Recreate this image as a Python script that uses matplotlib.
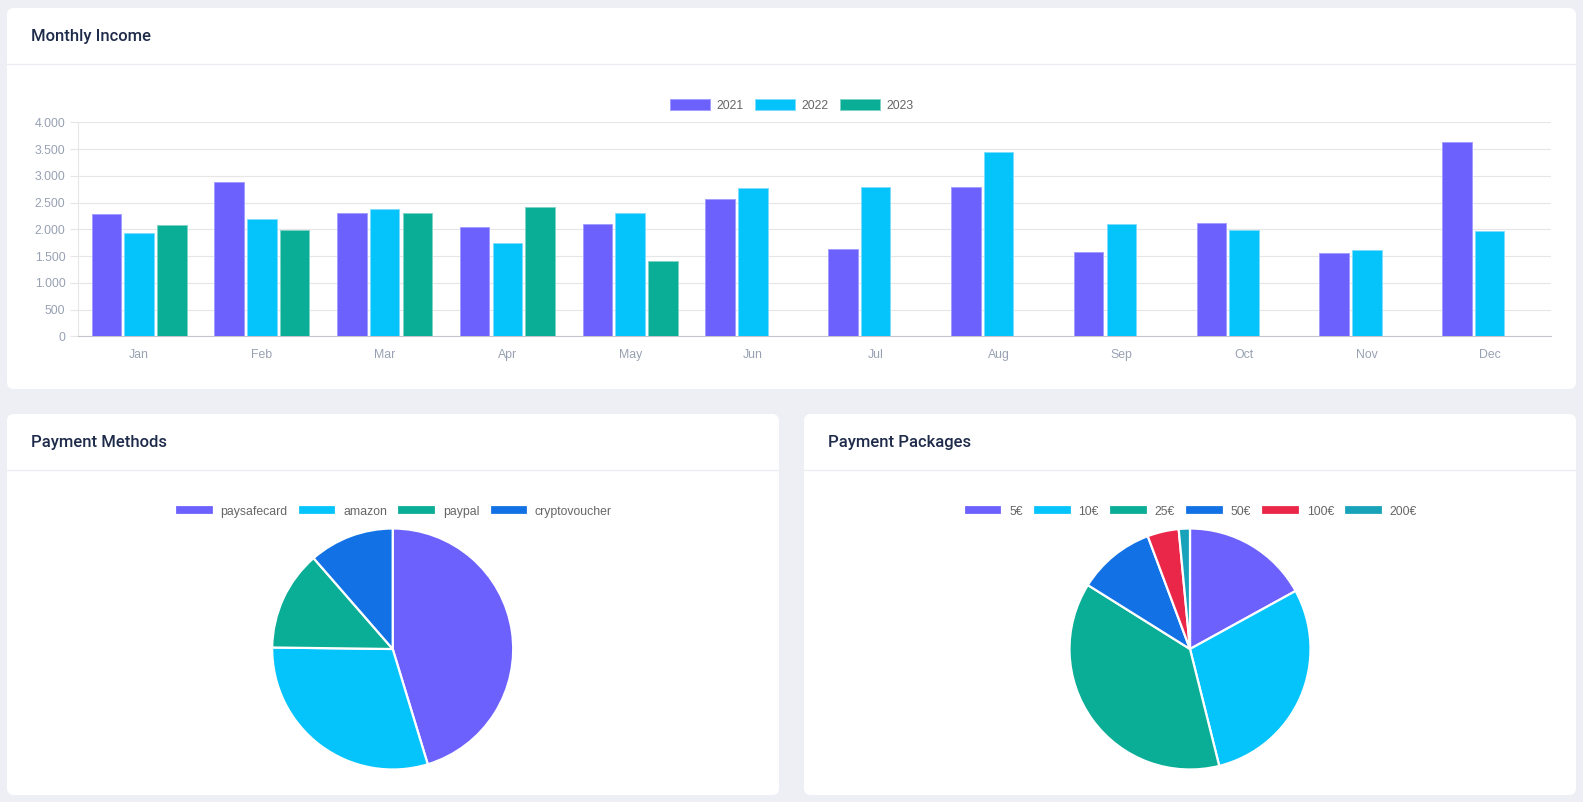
import numpy as np
import matplotlib
matplotlib.use('Agg')
import matplotlib.pyplot as plt
from matplotlib.patches import FancyBboxPatch

plt.rcParams['font.family'] = ['Liberation Sans', 'DejaVu Sans']

W, H = 1583, 802

# data
months = ['Jan', 'Feb', 'Mar', 'Apr', 'May', 'Jun', 'Jul', 'Aug', 'Sep', 'Oct', 'Nov', 'Dec']
years = ['2021', '2022', '2023']
income_2021 = [2290, 2885, 2300, 2035, 2090, 2575, 1640, 2785, 1570, 2125, 1550, 3625]
income_2022 = [1925, 2190, 2380, 1745, 2300, 2780, 2785, 3445, 2100, 1980, 1605, 1970]
income_2023 = [2075, 1980, 2300, 2415, 1410, None, None, None, None, None, None, None]
y_ticks = [0, 500, 1000, 1500, 2000, 2500, 3000, 3500, 4000]

methods = ['paysafecard', 'amazon', 'paypal', 'cryptovoucher']
method_share = [45.3, 29.9, 13.4, 11.4]

packages = ['5€', '10€', '25€', '50€', '100€', '200€']
package_share = [17.0, 29.1, 37.8, 10.4, 4.2, 1.5]

purple = '#6c61fd'
cyan = '#05c4fc'
teal = '#0aad95'
blue = '#1271e4'
red = '#ea2749'
teal2 = '#18a3bb'
bar_colors = [purple, cyan, teal]
bar_edges = ['#a39dfe', '#7fdcfd', '#7fd3c6']

grid_c = '#e6e6e6'
tick_c = '#98a1b2'
legend_c = '#666666'
title_c = '#1f2b4a'


def fig_rect(x0, y0, x1, y1):
    return [x0 / W, 1 - y1 / H, (x1 - x0) / W, (y1 - y0) / H]


fig = plt.figure(figsize=(W / 100, H / 100), dpi=100, facecolor='#eeeff4')

# background cards
bg = fig.add_axes([0, 0, 1, 1], zorder=0)
bg.set_xlim(0, W)
bg.set_ylim(H, 0)
bg.axis('off')

cards = [(7, 8, 1576, 389, 64, 'Monthly Income'),
         (7, 414, 779, 795, 470, 'Payment Methods'),
         (804, 414, 1576, 795, 470, 'Payment Packages')]
for x0, y0, x1, y1, sep, title in cards:
    bg.add_patch(FancyBboxPatch((x0, y0), x1 - x0, y1 - y0,
                                boxstyle='round,pad=0,rounding_size=7',
                                facecolor='white', edgecolor='none'))
    bg.plot([x0, x1], [sep, sep], color='#e9edf2', lw=0.9)
    bg.text(x0 + 24.5, (y0 + sep) / 2 + 1, title, fontsize=12, color=title_c,
            family=['Roboto', 'DejaVu Sans'], fontweight='medium',
            ha='left', va='center')

# bar chart
ax = fig.add_axes(fig_rect(77.7, 122.3, 1551, 336.3), zorder=2)
ax.set_facecolor('none')
x = np.arange(len(months))
slot = 0.8 / 3
series = [income_2021, income_2022, income_2023]
for i, vals in enumerate(series):
    v = np.array([np.nan if a is None else a for a in vals], dtype=float)
    ax.bar(x + (i - 1) * slot, v, width=slot * 0.9, color=bar_colors[i],
           edgecolor=bar_edges[i], linewidth=0.7, label=years[i], zorder=3)
ax.set_xlim(-0.5, len(months) - 0.5)
ax.set_ylim(0, 4000)
ax.set_yticks(y_ticks)
ax.set_yticklabels([f'{t:,}'.replace(',', '.') for t in y_ticks])
ax.set_xticks(x)
ax.set_xticklabels(months)
ax.grid(axis='y', color=grid_c, lw=0.8, zorder=0)
for s in ['top', 'right']:
    ax.spines[s].set_visible(False)
ax.spines['left'].set_color(grid_c)
ax.spines['left'].set_linewidth(0.8)
ax.spines['bottom'].set_color('#c4c7ce')
ax.spines['bottom'].set_linewidth(0.8)
ax.tick_params(axis='y', length=5.8, width=0.8, color=grid_c, pad=3,
               labelsize=8.8, labelcolor=tick_c)
ax.tick_params(axis='x', length=0, pad=9.5, labelsize=8.8, labelcolor=tick_c)
ax.legend(loc='center', bbox_to_anchor=(791.5 / W, 1 - 105.5 / H),
          bbox_transform=fig.transFigure, ncol=3, frameon=False,
          fontsize=8.8, labelcolor=legend_c, handlelength=3.3,
          handleheight=0.95, handletextpad=0.5, columnspacing=0.95,
          borderpad=0, borderaxespad=0)


def pie_panel(cx, cy, r, shares, labels, colors, leg_cx, leg_cy):
    pa = fig.add_axes(fig_rect(cx - r, cy - r, cx + r, cy + r), zorder=2)
    pa.set_facecolor('none')
    wedges, _ = pa.pie(shares, colors=colors, startangle=90, counterclock=False,
                       radius=1, wedgeprops=dict(edgecolor='white', linewidth=1.6))
    pa.set_xlim(-1.0, 1.0)
    pa.set_ylim(-1.0, 1.0)
    pa.set_aspect('equal')
    pa.axis('off')
    fig.legend(wedges, labels, loc='center',
               bbox_to_anchor=(leg_cx / W, 1 - leg_cy / H),
               bbox_transform=fig.transFigure, ncol=len(labels), frameon=False,
               fontsize=8.8, labelcolor=legend_c, handlelength=3.15,
               handleheight=0.85, handletextpad=0.55, columnspacing=0.85,
               borderpad=0, borderaxespad=0)


pie_panel(392.7, 649, 120.5, method_share, methods, [purple, cyan, teal, blue], 393.5, 511.5)
pie_panel(1190, 649, 120.5, package_share, packages,
          [purple, cyan, teal, blue, red, teal2], 1190.5, 511.5)

fig.savefig('out.png', dpi=100, facecolor=fig.get_facecolor())
